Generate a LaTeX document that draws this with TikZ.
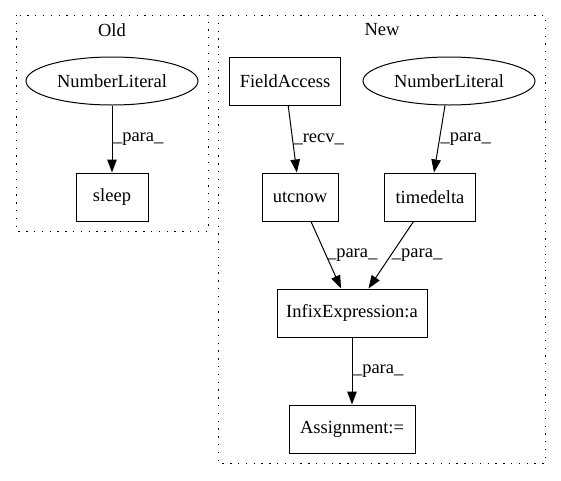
\documentclass[tikz,border=0pt]{standalone}
\usepackage{fontspec}
\setmainfont{Liberation Serif}
\usetikzlibrary{arrows.meta,shapes.geometric}

\begin{document}
\begin{tikzpicture}[x=1pt, y=-1pt,
    box/.style={draw, line width=1pt, minimum height=48pt, inner sep=0pt, font=\fontsize{18.5}{20}\selectfont},
    lit/.style={draw, ellipse, line width=1pt, minimum width=172pt, minimum height=48pt, inner sep=0pt, font=\fontsize{18.5}{20}\selectfont},
    edge/.style={-{Triangle[length=13pt,width=9.5pt]}, line width=1pt},
    lbl/.style={right, inner sep=0.5pt, font=\fontsize{18.5}{20}\selectfont},
    cluster/.style={draw, line width=1pt, dash pattern=on 1.3pt off 6.5pt}]
            \useasboundingbox (0, 0) rectangle (561, 480);

            % Old
            \draw[cluster] (16, 15) rectangle (208, 231);
            \node[font=\fontsize{18.5}{20}\selectfont] (oldtitle) at (112, 30) {Old};
            \node[lit] (numold) at (112, 81) {NumberLiteral};
            \node[box, minimum width=72pt] (sleep) at (112, 197) {sleep};
            \draw[edge] (numold) -- node[lbl, pos=0.5] {\_para\_} (sleep);

            % New
            \draw[cluster] (218, 15) rectangle (545, 463);
            \node[font=\fontsize{18.5}{20}\selectfont] (newtitle) at (382, 30) {New};
            \node[box, minimum width=111pt] (field) at (285, 81) {FieldAccess};
            \node[lit] (numnew) at (449, 81) {NumberLiteral};
            \node[box, minimum width=76pt] (utcnow) at (300, 197) {utcnow};
            \node[box, minimum width=91pt] (tdelta) at (430, 197) {timedelta};
            \node[box, minimum width=150pt] (infix) at (352, 313) {InfixExpression:a};
            \node[box, minimum width=126pt] (assign) at (352, 429) {Assignment:=};

            \draw[edge] (field) -- node[lbl, pos=0.5] {\_recv\_} (utcnow);
            \draw[edge] (numnew) -- node[lbl, pos=0.5] {\_para\_} (tdelta);
            \draw[edge] (utcnow) -- node[lbl, pos=0.5] {\_para\_} (infix);
            \draw[edge] (tdelta) -- node[lbl, pos=0.5] {\_para\_} (infix);
            \draw[edge] (infix) -- node[lbl, pos=0.5] {\_para\_} (assign);
\end{tikzpicture}
\end{document}
